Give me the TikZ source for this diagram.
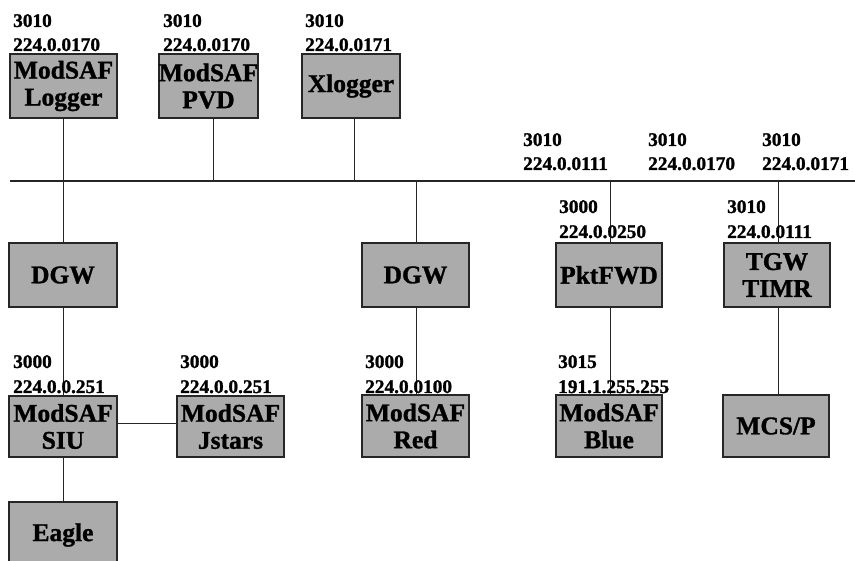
\documentclass[tikz,border=0pt]{standalone}
\usepackage{fontspec}
\setmainfont{Liberation Serif}[BoldFeatures={FakeBold=1.2}]
\begin{document}
\begin{tikzpicture}[x=1pt,y=-1pt,
  box/.style={draw=black!85,line width=1.4pt,fill=black!33,rectangle,inner sep=0pt,
    minimum height=64pt,align=center,
    font=\fontsize{25.5}{27}\selectfont\bfseries},
  lbl/.style={anchor=base west,inner sep=0pt,font=\fontsize{19.3}{24}\selectfont\bfseries},
  wire/.style={draw=black!85,line width=0.9pt}]
\useasboundingbox (0,0) rectangle (855,561);
\begin{scope}
\clip (0,0) rectangle (855,561);
% boxes
\node[box,minimum width=107pt] (logger) at (63.5,86) {ModSAF\\Logger};
\node[box,minimum width=97pt] (pvd) at (208.5,86) {ModSAF\\PVD};
\node[box,minimum width=98pt] (xlog) at (351,86) {Xlogger};
\node[box,minimum width=108pt] (dgwa) at (63,275) {DGW};
\node[box,minimum width=107pt] (dgwb) at (415.5,275) {DGW};
\node[box,minimum width=106pt] (pkt) at (609,275) {PktFWD};
\node[box,minimum width=106pt] (tgw) at (777,275) {TGW\\TIMR};
\node[box,minimum width=108pt,minimum height=61pt] (siu) at (63,426.5) {ModSAF\\SIU};
\node[box,minimum width=107pt,minimum height=61pt] (jst) at (230.5,426.5) {ModSAF\\Jstars};
\node[box,minimum width=107pt,minimum height=62pt] (red) at (415.5,426) {ModSAF\\Red};
\node[box,minimum width=106pt,minimum height=62pt] (blue) at (609,426) {ModSAF\\Blue};
\node[box,minimum width=106pt,minimum height=62pt] (mcs) at (776,426) {MCS/P};
\node[box,minimum width=108pt,minimum height=66pt] (eagle) at (63,535) {Eagle};
\end{scope}
% bus
\coordinate (busl) at (10,181);
\coordinate (busr) at (855,181);
\coordinate (bpvd) at (213,181);
\coordinate (bxlog) at (354,181);
\coordinate (bdgwb) at (416,181);
\coordinate (bpkt) at (610,181);
\coordinate (btgw) at (778,181);
\draw[wire,line width=1.3pt] (busl) -- (busr);
% connectors
\draw[wire] (logger.south -| dgwa.north) -- (dgwa.north);
\draw[wire] (pvd.south -| bpvd) -- (bpvd);
\draw[wire] (xlog.south -| bxlog) -- (bxlog);
\draw[wire] (bdgwb) -- (dgwb.north -| bdgwb);
\draw[wire] (bpkt) -- (pkt.north -| bpkt);
\draw[wire] (btgw) -- (tgw.north -| btgw);
\draw[wire] (dgwa.south) -- (siu.north);
\draw[wire] (siu.south) -- (eagle.north);
\draw[wire] (siu.east |- 0,423) -- (jst.west |- 0,423);
\draw[wire] (dgwb.south -| bdgwb) -- (red.north -| bdgwb);
\draw[wire] (pkt.south -| bpkt) -- (blue.north -| bpkt);
\draw[wire] (tgw.south -| btgw) -- (mcs.north -| btgw);
% labels
\node[lbl] (p1) at (13,27) {3010};
\node[lbl] (a1) at (13,51) {224.0.0170};
\node[lbl] (p2) at (163,27) {3010};
\node[lbl] (a2) at (163,51) {224.0.0170};
\node[lbl] (p3) at (305,27) {3010};
\node[lbl] (a3) at (305,51) {224.0.0171};
\node[lbl] (p4) at (523,146) {3010};
\node[lbl] (a4) at (523,170) {224.0.0111};
\node[lbl] (p5) at (648,146) {3010};
\node[lbl] (a5) at (648,170) {224.0.0170};
\node[lbl] (p6) at (762,146) {3010};
\node[lbl] (a6) at (762,170) {224.0.0171};
\node[lbl] (p7) at (559,213) {3000};
\node[lbl] (a7) at (559,238) {224.0.0250};
\node[lbl] (p8) at (727,213) {3010};
\node[lbl] (a8) at (727,238) {224.0.0111};
\node[lbl] (p9) at (13,368) {3000};
\node[lbl] (a9) at (13,393) {224.0.0.251};
\node[lbl] (p10) at (180,368) {3000};
\node[lbl] (a10) at (180,393) {224.0.0.251};
\node[lbl] (p11) at (365,368) {3000};
\node[lbl] (a11) at (365,393) {224.0.0100};
\node[lbl] (p12) at (558,368) {3015};
\node[lbl] (a12) at (558,393) {191.1.255.255};
\end{tikzpicture}
\end{document}
